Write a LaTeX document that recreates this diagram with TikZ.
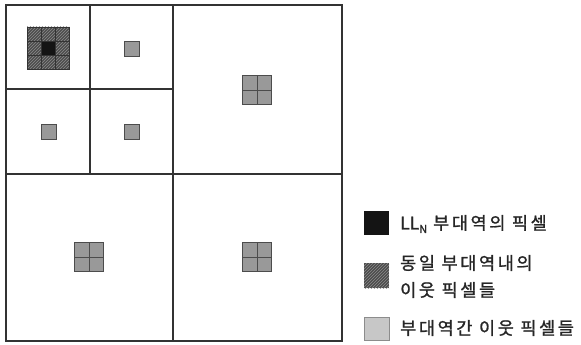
\documentclass[tikz,border=0pt]{standalone}
\usepackage{fontspec}
\setmainfont{Noto Sans CJK KR}
\newfontfamily\kr[LetterSpace=15,FakeBold=1.2]{Noto Sans CJK KR}
\newfontfamily\krll[FakeBold=1.2]{Noto Sans CJK KR}
\usetikzlibrary{patterns}
\begin{document}
\begin{tikzpicture}[x=1pt,y=-1pt,
  frame/.style={draw=black!80, line width=1.1pt},
  blackpix/.style={fill=black!92},
  hatchbase/.style={fill=black!70},
  hatchlines/.style={pattern=north east lines, pattern color=black!45},
  interpix/.style={fill=black!40, draw=black!70, line width=0.9pt},
  legendtext/.style={anchor=west, inner sep=0pt, font=\kr\fontsize{17.5}{20}\selectfont, text=black!85, align=left}
]
\useasboundingbox (0,0) rectangle (581,345);
\fill[white] (0,0) rectangle (581,345);
% quadtree frame
\draw[frame] (6,5) rectangle (342,341);
\draw[frame] (173,5) -- (173,341);
\draw[frame] (6,174) -- (342,174);
\draw[frame] (90,5) -- (90,174);
\draw[frame] (6,89) -- (173,89);
% 3x3 block in LL_N
\path[hatchbase] (27,27) rectangle (69,69);
\path[hatchlines] (27,27) rectangle (69,69);
\path[blackpix] (41,41) rectangle (55,55);
\draw[black!80, line width=0.5pt] (41,27) -- (41,69) (55,27) -- (55,69) (27,41) -- (69,41) (27,55) -- (69,55);
\draw[black!80, line width=0.9pt] (27,27) rectangle (69,69);
% single inter-band pixels
\draw[interpix] (124,41) rectangle (139,56);
\draw[interpix] (41,124) rectangle (56,139);
\draw[interpix] (124,124) rectangle (139,139);
% 2x2 blocks
\foreach \cx/\cy in {257/90, 89/257, 257/257}{
  \draw[interpix] (\cx-14.5,\cy-14.5) rectangle (\cx+14.5,\cy+14.5);
  \draw[black!70, line width=0.9pt] (\cx,\cy-14.5) -- (\cx,\cy+14.5) (\cx-14.5,\cy) -- (\cx+14.5,\cy);
}
% legend
\path[blackpix] (364,211) rectangle (389,235);
\node[legendtext] (l1) at (400,224) {{\krll LL\raisebox{-0.2em}{\fontsize{11}{11}\selectfont N}}\hspace{6pt}부대역의 픽셀};
\path[hatchbase] (364,263) rectangle (389,288);
\path[hatchlines] (364,263) rectangle (389,288);
\node[legendtext] (l2a) at (400,263) {동일 부대역내의};
\node[legendtext] (l2b) at (400,290) {이웃 픽셀들};
\draw[fill=black!22, draw=black!45, line width=0.8pt] (364,317) rectangle (389,340);
\node[legendtext] (l3) at (400,328) {부대역간 이웃 픽셀들};
\end{tikzpicture}
\end{document}
